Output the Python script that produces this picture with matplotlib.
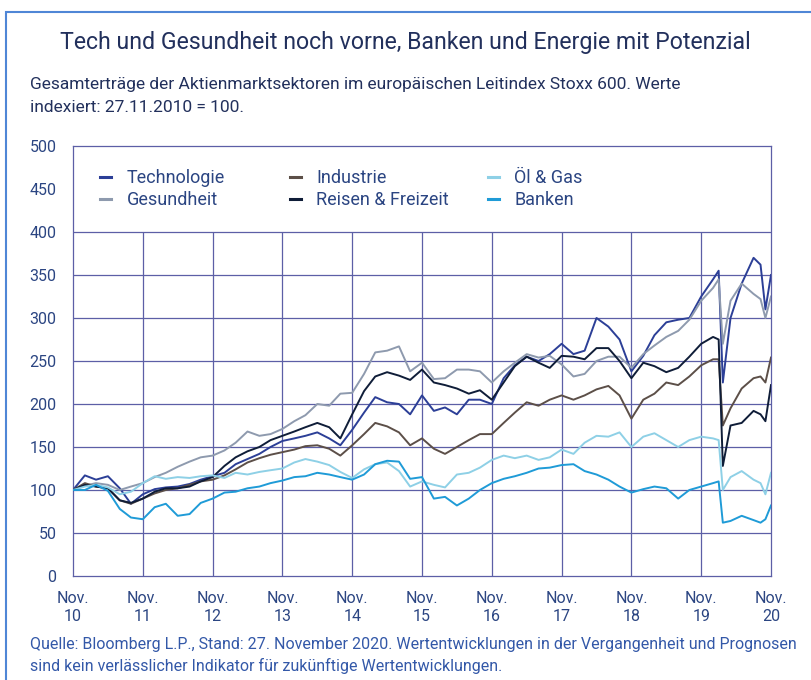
import numpy as np
import matplotlib.pyplot as plt
from matplotlib.patches import Rectangle
from matplotlib.legend import Legend

plt.rcParams['font.family'] = ['Roboto', 'DejaVu Sans']

# years since 27.11.2010
jahre = [0, .17, .33, .5, .67, .83, 1, 1.17, 1.33, 1.5, 1.67, 1.83,
         2, 2.17, 2.33, 2.5, 2.67, 2.83, 3, 3.17, 3.33, 3.5, 3.67, 3.83,
         4, 4.17, 4.33, 4.5, 4.67, 4.83, 5, 5.17, 5.33, 5.5, 5.67, 5.83,
         6, 6.17, 6.33, 6.5, 6.67, 6.83, 7, 7.17, 7.33, 7.5, 7.67, 7.83,
         8, 8.17, 8.33, 8.5, 8.67, 8.83, 9, 9.17, 9.25, 9.31, 9.42, 9.58,
         9.75, 9.85, 9.92, 10]

technologie = [100, 117, 112, 116, 102, 84, 95, 101, 103, 104, 107, 112,
               116, 120, 130, 136, 142, 150, 157, 160, 163, 167, 160, 152,
               170, 190, 208, 202, 200, 188, 210, 192, 196, 188, 205, 205,
               200, 230, 245, 255, 250, 258, 270, 258, 262, 300, 290, 275,
               238, 256, 280, 295, 298, 300, 325, 345, 355, 225, 300, 340,
               370, 362, 310, 350]
gesundheit = [100, 105, 108, 106, 100, 104, 108, 115, 120, 127, 133, 138,
              140, 146, 155, 168, 163, 165, 171, 180, 187, 200, 198, 212,
              213, 235, 260, 262, 267, 238, 248, 229, 230, 240, 240, 238,
              225, 238, 248, 258, 254, 256, 246, 232, 235, 250, 255, 255,
              242, 258, 268, 278, 285, 298, 320, 335, 345, 270, 320, 340,
              328, 322, 300, 325]
industrie = [100, 108, 104, 102, 88, 84, 90, 96, 100, 102, 106, 110,
             112, 117, 124, 132, 137, 141, 144, 147, 151, 152, 148, 140,
             152, 165, 178, 174, 167, 152, 160, 148, 142, 150, 158, 165,
             165, 178, 190, 202, 198, 205, 210, 205, 210, 217, 221, 210,
             183, 205, 212, 225, 222, 232, 245, 252, 252, 175, 195, 218,
             230, 232, 225, 254]
reisen = [100, 106, 104, 102, 88, 85, 90, 98, 102, 102, 104, 110,
          115, 128, 138, 145, 150, 158, 163, 168, 173, 178, 173, 160,
          188, 215, 232, 237, 233, 228, 240, 225, 222, 218, 212, 216,
          205, 225, 244, 255, 248, 242, 256, 255, 252, 265, 265, 250,
          230, 248, 244, 237, 242, 255, 270, 278, 275, 128, 175, 178,
          192, 188, 180, 222]
oel_gas = [100, 104, 106, 103, 95, 98, 108, 116, 113, 115, 114, 116,
           117, 114, 120, 118, 121, 123, 125, 132, 136, 133, 129, 121,
           114, 124, 130, 132, 122, 104, 110, 106, 103, 118, 120, 126,
           135, 140, 137, 140, 135, 138, 147, 142, 155, 163, 162, 167,
           150, 162, 166, 158, 150, 158, 162, 160, 158, 100, 115, 122,
           112, 108, 95, 120]
banken = [100, 100, 106, 99, 78, 68, 66, 80, 84, 70, 72, 85,
          90, 97, 98, 102, 104, 108, 111, 115, 116, 120, 118, 115,
          112, 118, 130, 134, 133, 113, 115, 90, 92, 82, 90, 100,
          108, 113, 116, 120, 125, 126, 129, 130, 122, 118, 112, 104,
          97, 101, 104, 102, 90, 100, 104, 108, 110, 62, 64, 70,
          65, 62, 66, 82]

x_labels = ['Nov.\n%02d' % j for j in range(10, 21)]
y_ticks = list(range(0, 501, 50))

navy = '#22305c'
grid_c = '#5c5fa6'

fig = plt.figure(figsize=(8.11, 6.80), dpi=100)
fig.patches.append(Rectangle((6 / 811, -0.1), 1.2, (680 - 12) / 680 + 0.1,
                             transform=fig.transFigure, fill=False,
                             edgecolor='#4f86d6', lw=1.5))

ax = fig.add_axes([73 / 811, 1 - 576 / 680, 698 / 811, 430 / 680])
ax.set_xlim(0, 10)
ax.set_ylim(0, 500)

# grid only below the legend band
ax.vlines(range(1, 10), 0, 400, color=grid_c, lw=0.9, zorder=1)
ax.hlines(range(50, 401, 50), 0, 10, color=grid_c, lw=0.9, zorder=1)
for s in ax.spines.values():
    s.set_color(grid_c)
    s.set_linewidth(0.9)

serien = [
    ('Technologie', technologie, '#2c3f97'),
    ('Gesundheit', gesundheit, '#8e9aae'),
    ('Industrie', industrie, '#5c4f48'),
    ('Reisen & Freizeit', reisen, '#0f1d38'),
    ('Öl & Gas', oel_gas, '#8ed0e6'),
    ('Banken', banken, '#1f9bd7'),
]
lines = {}
for name, vals, col in serien:
    lines[name], = ax.plot(jahre, vals, color=col, lw=1.4, label=name, zorder=3)

# three legend columns placed separately
spalten = [(['Technologie', 'Gesundheit'], 0.039),
           (['Industrie', 'Reisen & Freizeit'], 0.311),
           (['Öl & Gas', 'Banken'], 0.595)]
for namen, xpos in spalten:
    leg = Legend(ax, [lines[n] for n in namen], namen, loc='upper left',
                 bbox_to_anchor=(xpos, 0.946), frameon=False, fontsize=13,
                 handlelength=0.6, handletextpad=0.85, labelspacing=0.2,
                 borderpad=0, borderaxespad=0)
    for t in leg.get_texts():
        t.set_color('#2b4582')
    for h in leg.get_lines():
        h.set_linewidth(2.2)
    ax.add_artist(leg)

ax.set_xticks(range(0, 11))
ax.set_xticklabels(x_labels)
ax.set_yticks(y_ticks)
ax.tick_params(length=0, labelsize=11.5, labelcolor='#2b4582')
ax.tick_params(axis='x', pad=11)
ax.tick_params(axis='y', pad=12)

fig.text(0.5, 1 - 42 / 680, 'Tech und Gesundheit noch vorne, Banken und Energie mit Potenzial',
         ha='center', va='center', fontsize=16.7, color=navy)
fig.text(30 / 811, 1 - 85 / 680,
         'Gesamterträge der Aktienmarktsektoren im europäischen Leitindex Stoxx 600. Werte',
         ha='left', va='center', fontsize=12.5, color=navy)
fig.text(30 / 811, 1 - 107 / 680, 'indexiert: 27.11.2010 = 100.',
         ha='left', va='center', fontsize=12.5, color=navy)
fig.text(30 / 811, 1 - 645 / 680,
         'Quelle: Bloomberg L.P., Stand: 27. November 2020. Wertentwicklungen in der Vergangenheit und Prognosen',
         ha='left', va='center', fontsize=11.5, color='#3358a8')
fig.text(30 / 811, 1 - 666 / 680,
         'sind kein verlässlicher Indikator für zukünftige Wertentwicklungen.',
         ha='left', va='center', fontsize=11.5, color='#3358a8')

fig.savefig('out.png', dpi=100)
